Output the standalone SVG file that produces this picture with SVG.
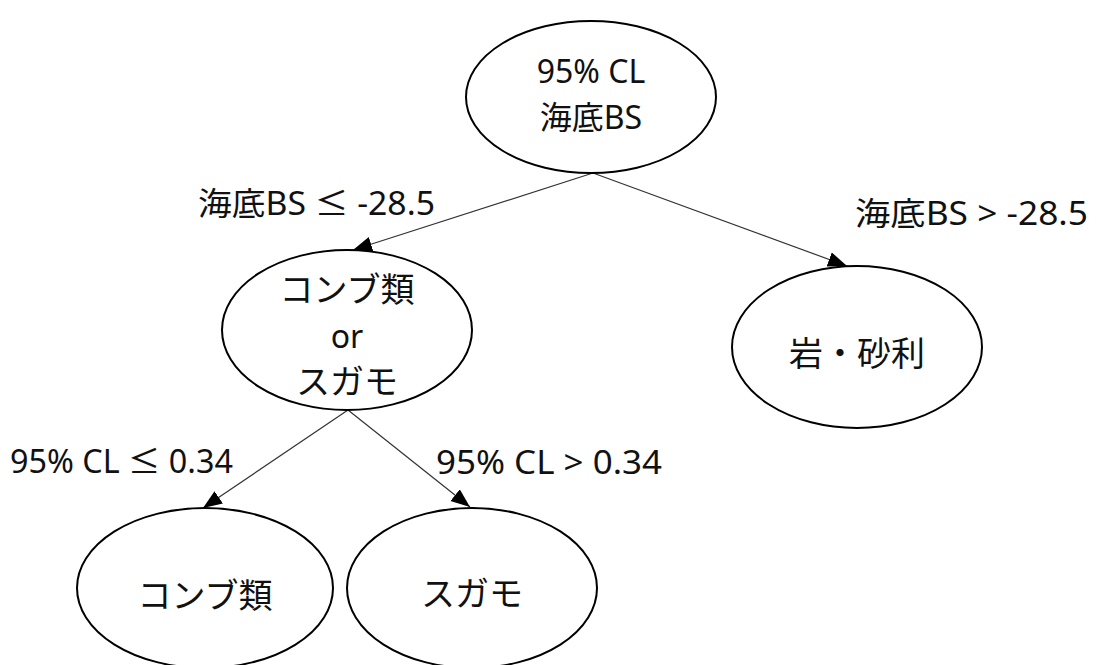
<svg xmlns="http://www.w3.org/2000/svg" width="1103" height="665" viewBox="0 0 1103 665">
<defs>
<style>
.node ellipse{fill:#fff;stroke:#000;stroke-width:2}
.t{font-family:"Noto Sans","Noto Sans CJK JP",sans-serif;font-size:32px;fill:#111}
.n{text-anchor:middle}
.edge{stroke:#333;stroke-width:1.2;fill:none;marker-end:url(#ah)}
</style>
<marker id="ah" markerUnits="userSpaceOnUse" markerWidth="20" markerHeight="16" refX="19" refY="7.5" orient="auto">
<path d="M0,0 L19,7.5 L0,15 z" fill="#000"/>
</marker>
</defs>
<rect width="1103" height="665" fill="#fff"/>
<g id="connectors">
<line class="edge" x1="593" y1="173" x2="353" y2="250"/>
<line class="edge" x1="593" y1="173" x2="847" y2="266"/>
<line class="edge" x1="348" y1="410" x2="203" y2="508"/>
<line class="edge" x1="348" y1="410" x2="470" y2="507"/>
</g>
<g id="labels">
<text class="t" x="198" y="215" textLength="237" lengthAdjust="spacingAndGlyphs">海底BS ≤ -28.5</text>
<text class="t" x="855" y="225" textLength="233" lengthAdjust="spacingAndGlyphs">海底BS &gt; -28.5</text>
<text class="t" x="10" y="473" textLength="223" lengthAdjust="spacingAndGlyphs">95% CL ≤ 0.34</text>
<text class="t" x="436" y="474" textLength="226" lengthAdjust="spacingAndGlyphs">95% CL &gt; 0.34</text>
</g>
<g id="node-root" class="node">
<ellipse cx="591" cy="97" rx="125" ry="76"/>
<text class="t n" x="591" y="83">95% CL</text>
<text class="t n" x="591" y="129">海底BS</text>
</g>
<g id="node-kombu-or-sugamo" class="node">
<ellipse cx="347" cy="330" rx="125" ry="80"/>
<text class="t n" x="347" y="302" style="font-size:34px">コンブ類</text>
<text class="t n" x="347" y="348">or</text>
<text class="t n" x="347" y="394" style="font-size:34px">スガモ</text>
</g>
<g id="node-rock" class="node">
<ellipse cx="857" cy="347" rx="125" ry="81"/>
<text class="t n" x="857" y="366" style="font-size:34px">岩・砂利</text>
</g>
<g id="node-kombu" class="node">
<ellipse cx="205" cy="588" rx="128" ry="80"/>
<text class="t n" x="205" y="608" style="font-size:34px">コンブ類</text>
</g>
<g id="node-sugamo" class="node">
<ellipse cx="472" cy="588" rx="125" ry="80"/>
<text class="t n" x="472" y="606" style="font-size:34px">スガモ</text>
</g>
</svg>
